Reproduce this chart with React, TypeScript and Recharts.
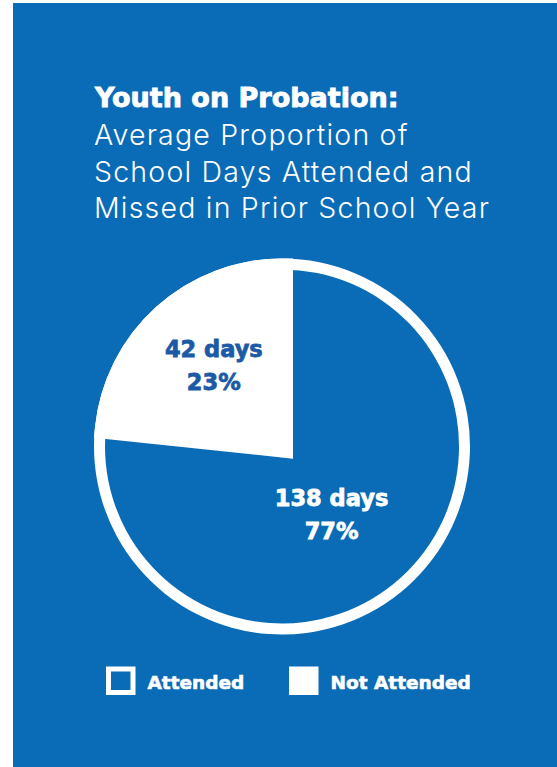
import { Cell, Pie, PieChart } from 'recharts'

const CATEGORIES = ['Attended', 'Not Attended']
const DAYS = [138, 42]
const TITLE = 'Youth on Probation:'
const SUBTITLE = ['Average Proportion of', 'School Days Attended and', 'Missed in Prior School Year']

const BLUE = '#0a6bb6'
const LABEL_BLUE = '#1c5aa6'
const WHITE = '#ffffff'
const BOLD = '"DejaVu Sans", sans-serif'
const LIGHT = 'Inter, "Open Sans", sans-serif'

const CX = 282
const CY = 446.5
const RING = 11
const OUTER = 188

// label placement per slice: radius from centre and angle nudge
const LABEL_POS = [
  { r: 91, da: -9, color: WHITE },
  { r: 100, da: 1, color: LABEL_BLUE },
]
const LEGEND_X = [106, 289]

const RADIAN = Math.PI / 180

type LabelProps = {
  cx: number
  cy: number
  midAngle: number
  percent: number
  index: number
  value?: number
}

const renderLabel = ({ cx, cy, midAngle, percent, index, value }: LabelProps) => {
  const pos = LABEL_POS[index]
  const a = (midAngle + pos.da) * RADIAN
  const x = cx + pos.r * Math.cos(-a)
  const y = cy + pos.r * Math.sin(-a)
  return (
    <text
      x={x}
      y={y}
      textAnchor="middle"
      fill={pos.color}
      stroke={pos.color}
      strokeWidth={0.8}
      fontFamily={BOLD}
      fontWeight={700}
      fontSize={22.5}
    >
      <tspan x={x} y={y - 16.5}>{`${value} days`}</tspan>
      <tspan x={x} y={y + 16.5}>{`${Math.round(percent * 100)}%`}</tspan>
    </text>
  )
}

export default function App() {
  const data = CATEGORIES.map((name, i) => ({ name, days: DAYS[i] }))

  return (
    <div style={{ position: 'absolute', left: 0, top: 0, width: 557, height: 767, background: WHITE, overflow: 'hidden' }}>
      <div style={{ position: 'absolute', left: 13, top: 3, width: 544, height: 764, background: BLUE }} />
      <div style={{ position: 'absolute', left: 0, top: 0 }}>
        <PieChart width={557} height={767} margin={{ top: 0, right: 0, bottom: 0, left: 0 }}>
          <text x={95} y={106.5} fill={WHITE} stroke={WHITE} strokeWidth={0.9} fontFamily={BOLD} fontWeight={700} fontSize={27}>
            {TITLE}
          </text>
          {SUBTITLE.map((line, i) => (
            <text
              key={line}
              x={94}
              y={145 + i * 36.5}
              fill={WHITE}
              fontFamily={LIGHT}
              fontWeight={300}
              fontSize={28.5}
              letterSpacing={1.2}
            >
              {line}
            </text>
          ))}

          <Pie
            data={data}
            dataKey="days"
            nameKey="name"
            cx={CX}
            cy={CY}
            outerRadius={OUTER}
            startAngle={90}
            endAngle={-270}
            stroke="none"
            legendType="none"
            isAnimationActive={false}
          >
            {data.map((d) => (
              <Cell key={d.name} fill={WHITE} />
            ))}
          </Pie>
          <Pie
            data={data}
            dataKey="days"
            nameKey="name"
            cx={CX}
            cy={CY}
            outerRadius={OUTER - RING}
            startAngle={90}
            endAngle={-270}
            label={renderLabel}
            labelLine={false}
            isAnimationActive={false}
          >
            {data.map((d, i) => (
              <Cell
                key={d.name}
                fill={i === 0 ? BLUE : WHITE}
                stroke={i === 0 ? 'none' : WHITE}
                strokeWidth={i === 0 ? 0 : RING * 2}
                strokeLinejoin="miter"
              />
            ))}
          </Pie>

          {CATEGORIES.map((name, i) => (
            <g key={name}>
              {i === 0 ? (
                <rect x={LEGEND_X[i] + 2.5} y={669} width={24.5} height={23.5} fill="none" stroke={WHITE} strokeWidth={5} />
              ) : (
                <rect x={LEGEND_X[i]} y={666.5} width={29.5} height={28.5} fill={WHITE} />
              )}
              <text
                x={LEGEND_X[i] + 41.5}
                y={688.5}
                fill={WHITE}
                stroke={WHITE}
                strokeWidth={0.6}
                fontFamily={BOLD}
                fontWeight={700}
                fontSize={18.5}
              >
                {name}
              </text>
            </g>
          ))}
        </PieChart>
      </div>
    </div>
  )
}
